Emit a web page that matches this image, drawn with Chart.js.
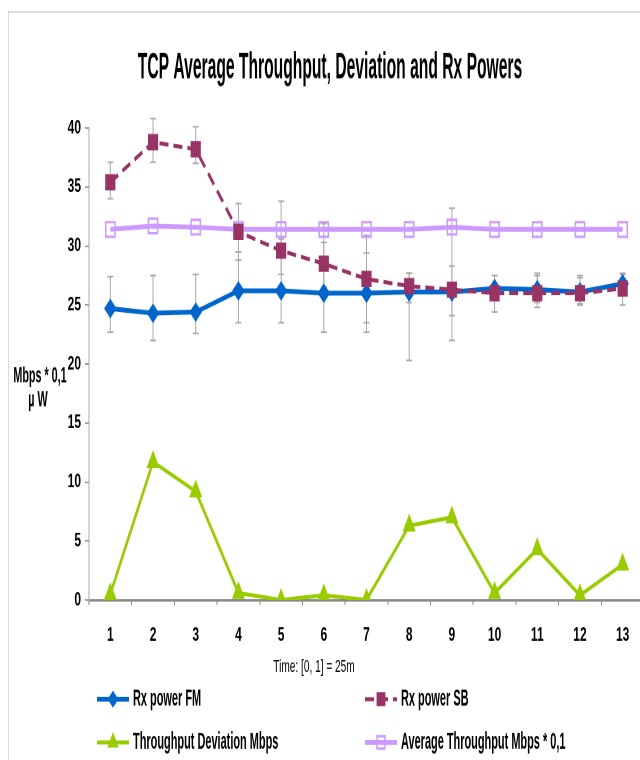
<html>

<head>
    <title>TCP Average Throughput</title>
    <script src="https://cdn.jsdelivr.net/npm/chart.js@4/dist/chart.umd.min.js"></script>
    <style>
        body { margin: 0; overflow: hidden; background: #fff; }
        /* the original picture is stretched tall, so the chart is drawn flat and scaled */
        #wrap { width: 662px; height: 475px; transform: scaleY(1.6); transform-origin: 0 0; }
    </style>
</head>

<body>
    <div id="wrap">
        <canvas id="tcpChart" width="662" height="475"></canvas>
    </div>

    <script>
        const labels = ['1', '2', '3', '4', '5', '6', '7', '8', '9', '10', '11', '12', '13'];

        // Rx power FM and its error bar lengths
        const rxFM = [24.7, 24.3, 24.4, 26.2, 26.2, 26.0, 26.0, 26.1, 26.1, 26.4, 26.3, 26.1, 26.8];
        const rxFMUp = [2.7, 3.2, 3.2, 3.3, 4.4, 4.3, 3.4, 1.6, 2.2, 1.1, 1.4, 1.4, 0.9];
        const rxFMDown = [2.0, 2.3, 1.8, 2.7, 2.7, 3.3, 3.3, 5.8, 4.1, 1.0, 1.1, 1.0, 1.0];

        // Rx power SB and its error bar lengths
        const rxSB = [35.4, 38.8, 38.2, 31.2, 29.6, 28.5, 27.2, 26.6, 26.3, 26.0, 26.0, 26.0, 26.4];
        const rxSBUp = [1.7, 2.0, 1.9, 2.4, 4.2, 3.4, 3.7, 1.1, 6.9, 0.8, 1.5, 1.3, 1.2];
        const rxSBDown = [1.4, 1.7, 1.2, 2.4, 2.0, 2.0, 3.7, 1.4, 2.2, 1.6, 1.2, 1.0, 1.4];

        const tpDev = [0.5, 11.7, 9.2, 0.6, 0.0, 0.4, 0.0, 6.3, 7.0, 0.6, 4.3, 0.4, 3.0];
        const tpAvg = [31.4, 31.7, 31.6, 31.4, 31.4, 31.4, 31.4, 31.4, 31.6, 31.4, 31.4, 31.4, 31.4];

        const yTicks = [0, 5, 10, 15, 20, 25, 30, 35, 40];

        const chartTitle = 'TCP Average Throughput, Deviation and Rx Powers';
        const xTitle = 'Time: [0, 1] = 25m';
        const yTitle = ['Mbps * 0,1', '\u00b5 W'];

        const FONT = "'Liberation Sans', Arial, sans-serif";
        Chart.defaults.font.family = FONT;
        Chart.defaults.color = '#000';

        // text drawn narrower, like the condensed face of the original
        function squeezeText(ctx, text, x, y, squeeze, align) {
            ctx.save();
            ctx.translate(x, y);
            ctx.scale(squeeze, 1);
            ctx.textAlign = align;
            ctx.fillText(text, 0, 0);
            ctx.restore();
        }

        // grey error bars, drawn behind the lines
        const errorBars = {
            id: 'errorBars',
            beforeDatasetsDraw(chart) {
                const ctx = chart.ctx;
                const x = chart.scales.x, y = chart.scales.y;
                ctx.save();
                ctx.strokeStyle = '#a8a8a8';
                ctx.lineWidth = 1;
                chart.data.datasets.forEach(ds => {
                    if (!ds.errUp) return;
                    ds.data.forEach((v, j) => {
                        const px = x.getPixelForValue(j);
                        const top = y.getPixelForValue(v + ds.errUp[j]);
                        const bot = y.getPixelForValue(v - ds.errDown[j]);
                        ctx.beginPath();
                        ctx.moveTo(px, top); ctx.lineTo(px, bot);
                        ctx.moveTo(px - 3, top); ctx.lineTo(px + 3, top);
                        ctx.moveTo(px - 3, bot); ctx.lineTo(px + 3, bot);
                        ctx.stroke();
                    });
                });
                ctx.restore();
            }
        };

        // frame, title, horizontal y title, x title and the two-column legend
        const extras = {
            id: 'extras',
            afterDraw(chart) {
                const ctx = chart.ctx;
                ctx.save();
                ctx.strokeStyle = '#d9d9d9';
                ctx.lineWidth = 1;
                ctx.beginPath();
                ctx.moveTo(8.5, chart.height); ctx.lineTo(8.5, 7.5); ctx.lineTo(chart.width, 7.5);
                ctx.stroke();

                ctx.fillStyle = '#000';
                ctx.textBaseline = 'middle';
                ctx.font = 'bold 23px ' + FONT;
                squeezeText(ctx, chartTitle, 330, 42.5, 0.68, 'center');

                ctx.font = 'bold 14px ' + FONT;
                squeezeText(ctx, yTitle[0], 40, 235, 0.77, 'center');
                squeezeText(ctx, yTitle[1], 38, 250, 0.77, 'center');

                ctx.font = '11px ' + FONT;
                squeezeText(ctx, xTitle, 314, 417, 0.92, 'center');

                const spots = [[97, 437], [365, 437], [97, 464], [365, 464]];
                chart.data.datasets.forEach((ds, i) => {
                    const sx = spots[i][0], sy = spots[i][1];
                    ctx.strokeStyle = ds.borderColor;
                    ctx.lineWidth = ds.borderWidth;
                    ctx.setLineDash(ds.borderDash || []);
                    ctx.beginPath();
                    ctx.moveTo(sx, sy); ctx.lineTo(sx + 32, sy);
                    ctx.stroke();
                    ctx.setLineDash([]);
                    ctx.fillStyle = ds.pointBackgroundColor;
                    ctx.strokeStyle = ds.pointBorderColor;
                    ctx.lineWidth = ds.pointBorderWidth;
                    Chart.helpers.drawPoint(ctx, {
                        pointStyle: ds.pointStyle,
                        radius: ds.pointRadius * 0.85,
                        rotation: 0,
                        borderWidth: ds.pointBorderWidth
                    }, sx + 16, sy);
                    ctx.fillStyle = '#000';
                    ctx.font = 'bold 15px ' + FONT;
                    squeezeText(ctx, ds.label, sx + 36, sy, 0.73, 'left');
                });
                ctx.restore();
            }
        };

        const tcpData = {
            labels: labels,
            datasets: [
                {
                    label: 'Rx power FM',
                    data: rxFM,
                    errUp: rxFMUp,
                    errDown: rxFMDown,
                    borderColor: '#0066cc',
                    borderWidth: 3,
                    pointStyle: 'rectRot',
                    pointRadius: 5.5,
                    pointBackgroundColor: '#0066cc',
                    pointBorderColor: '#0066cc',
                    pointBorderWidth: 1,
                    order: 2
                },
                {
                    label: 'Rx power SB',
                    data: rxSB,
                    errUp: rxSBUp,
                    errDown: rxSBDown,
                    borderColor: '#993366',
                    borderWidth: 2.5,
                    borderDash: [9, 5],
                    pointStyle: 'rect',
                    pointRadius: 6.5,
                    pointBackgroundColor: '#993366',
                    pointBorderColor: '#993366',
                    pointBorderWidth: 1,
                    order: 1
                },
                {
                    label: 'Throughput Deviation Mbps',
                    data: tpDev,
                    borderColor: '#99cc00',
                    borderWidth: 2.5,
                    pointStyle: 'triangle',
                    pointRadius: 6.5,
                    pointBackgroundColor: '#99cc00',
                    pointBorderColor: '#99cc00',
                    pointBorderWidth: 1,
                    order: 3
                },
                {
                    label: 'Average Throughput Mbps * 0,1',
                    data: tpAvg,
                    borderColor: '#cc99ff',
                    borderWidth: 3,
                    pointStyle: 'rect',
                    pointRadius: 6.5,
                    pointBackgroundColor: 'rgba(255,255,255,0)',
                    pointBorderColor: '#cc99ff',
                    pointBorderWidth: 1.5,
                    order: 4
                }
            ]
        };

        const tcpConfig = {
            type: 'line',
            data: tcpData,
            plugins: [errorBars, extras],
            options: {
                responsive: false,
                animation: false,
                devicePixelRatio: 2,
                layout: { padding: { left: 9, right: 18, top: 80, bottom: 50 } },
                elements: { line: { tension: 0 } },
                plugins: {
                    legend: { display: false },
                    tooltip: { enabled: false }
                },
                scales: {
                    x: {
                        offset: true,
                        afterFit: s => { s.height = 50; },
                        grid: { offset: true, drawOnChartArea: false, tickLength: 3, color: '#888' },
                        border: { color: '#888', width: 1.5 },
                        ticks: { padding: 12, font: { size: 12, weight: 'bold' } }
                    },
                    y: {
                        min: 0,
                        max: 40,
                        afterFit: s => { s.width = 80; },
                        afterBuildTicks: s => { s.ticks = yTicks.map(v => ({ value: v })); },
                        grid: { drawOnChartArea: false, tickLength: 4, color: '#999' },
                        border: { color: '#aaa', width: 1 },
                        ticks: { padding: 4, font: { size: 12, weight: 'bold' } }
                    }
                }
            }
        };

        var tcpCtx = document.getElementById('tcpChart').getContext('2d');
        var tcpChart = new Chart(tcpCtx, tcpConfig);
    </script>
</body>

</html>
